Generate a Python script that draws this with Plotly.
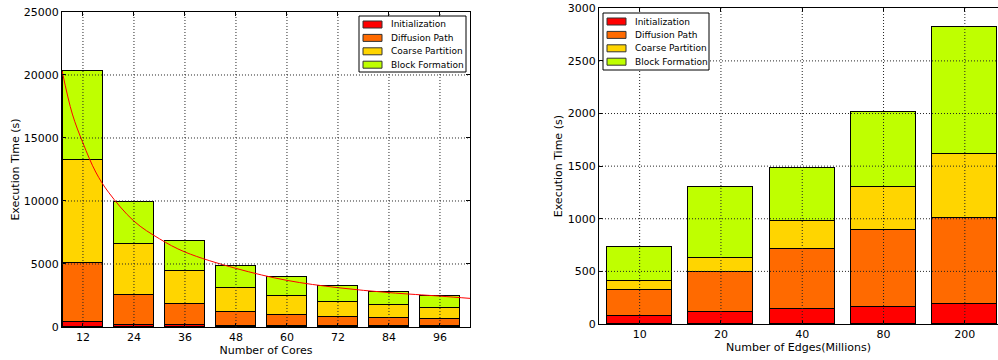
import plotly.graph_objects as go

# ---------------- data ----------------
cores = [12, 24, 36, 48, 60, 72, 84, 96]
core_init = [400, 185, 130, 105, 80, 80, 60, 55]
core_diff = [4650, 2375, 1690, 1085, 900, 710, 630, 555]
core_coarse = [8180, 3990, 2640, 1900, 1500, 1190, 1050, 870]
core_block = [7070, 3400, 2400, 1740, 1480, 1270, 1060, 975]

# ideal-scaling curve
curve_x = [7.1, 9.5, 12, 15, 18, 24, 30, 36, 48, 60, 72, 84, 96, 103.1]
curve_y = [20300, 16900, 14600, 12300, 10700, 8400, 7000, 5950, 4650, 3700, 3120, 2730, 2450, 2270]

edges = ["10", "20", "40", "80", "200"]
edge_init = [76, 111, 136, 162, 187]
edge_diff = [244, 383, 574, 728, 817]
edge_coarse = [82, 130, 266, 409, 605]
edge_block = [323, 672, 503, 716, 1210]

series_names = ["Initialization", "Diffusion Path", "Coarse Partition", "Block Formation"]
colors = ["#ff0000", "#ff6a00", "#ffd500", "#bfff00"]

left_yticks = [0, 5000, 10000, 15000, 20000, 25000]
right_yticks = [0, 500, 1000, 1500, 2000, 2500, 3000]

FONT = "DejaVu Sans"
W, H = 998, 360

fig = go.Figure()

for name, vals, col in zip(series_names, [core_init, core_diff, core_coarse, core_block], colors):
    fig.add_trace(go.Bar(
        x=cores, y=vals, name=name, width=9.6,
        marker=dict(color=col, line=dict(color="black", width=1)),
        xaxis="x", yaxis="y", showlegend=False,
    ))

fig.add_trace(go.Scatter(
    x=curve_x, y=curve_y, mode="lines", line=dict(color="red", width=1, shape="spline"),
    showlegend=False, xaxis="x", yaxis="y", hoverinfo="skip",
))

for name, vals, col in zip(series_names, [edge_init, edge_diff, edge_coarse, edge_block], colors):
    fig.add_trace(go.Bar(
        x=edges, y=vals, name=name, width=0.8,
        marker=dict(color=col, line=dict(color="black", width=1)),
        xaxis="x2", yaxis="y2", showlegend=False,
    ))

# dotted grid drawn above the bars (matplotlib classic look)
shapes = []
annotations = []
grid_line = dict(color="#222", width=1, dash="1px,2px")
for c in cores:
    shapes.append(dict(type="line", xref="x", yref="y domain", x0=c, x1=c, y0=0, y1=1,
                       line=grid_line, layer="above"))
for t in left_yticks[1:-1]:
    shapes.append(dict(type="line", xref="x domain", yref="y", x0=0, x1=1, y0=t, y1=t,
                       line=grid_line, layer="above"))
for i in range(len(edges)):
    shapes.append(dict(type="line", xref="x2", yref="y2 domain", x0=i, x1=i, y0=0, y1=1,
                       line=grid_line, layer="above"))
for t in right_yticks[1:-1]:
    shapes.append(dict(type="line", xref="x2 domain", yref="y2", x0=0, x1=1, y0=t, y1=t,
                       line=grid_line, layer="above"))


# matplotlib-style legend boxes (pixel layout -> paper coords)
def px(x):
    return x / W


def py(y):
    return 1 - y / H


def add_legend(left, top, width, height):
    shapes.append(dict(type="rect", xref="paper", yref="paper",
                       x0=px(left), x1=px(left + width), y0=py(top), y1=py(top + height),
                       line=dict(color="black", width=1), fillcolor="white", layer="above"))
    for k, (name, col) in enumerate(zip(series_names, colors)):
        cy = top + 8.5 + k * 13.4
        shapes.append(dict(type="rect", xref="paper", yref="paper",
                           x0=px(left + 4), x1=px(left + 23), y0=py(cy - 3.5), y1=py(cy + 3.5),
                           line=dict(color="#333", width=1), fillcolor=col, layer="above"))
        annotations.append(dict(text=name, xref="paper", yref="paper",
                                x=px(left + 30), y=py(cy), xanchor="left", yanchor="middle",
                                showarrow=False, font=dict(family=FONT, size=9, color="black")))


add_legend(359, 16, 107, 56)
add_legend(603, 13, 106, 57)

axis_common = dict(
    showline=True, linecolor="black", linewidth=1,
    ticks="inside", ticklen=4, tickcolor="black", tickwidth=1,
    showgrid=False, zeroline=False, automargin=False,
    tickfont=dict(family=FONT, size=11, color="black"),
)

fig.update_layout(
    width=W, height=H,
    template="none",
    margin=dict(l=0, r=0, t=0, b=0),
    paper_bgcolor="white", plot_bgcolor="white",
    barmode="stack", bargap=0,
    showlegend=False,
    font=dict(family=FONT, size=11, color="black"),
    xaxis=dict(**axis_common, domain=[0.0621, 0.4709], range=[7.06, 103.06],
               tickvals=cores, mirror="allticks",
               title=dict(text="Number of Cores", font=dict(size=11), standoff=3)),
    yaxis=dict(**axis_common, domain=[0.0917, 0.9667], range=[0, 25000],
               tickvals=left_yticks, tickformat="d", mirror="allticks",
               title=dict(text="Execution Time (s)", font=dict(size=11), standoff=1)),
    xaxis2=dict(**axis_common, domain=[0.6002, 1.0], range=[-0.5, 4.408],
                type="category", mirror="allticks", anchor="y2",
                title=dict(text="Number of Edges(Millions)", font=dict(size=11), standoff=2)),
    yaxis2=dict(**axis_common, domain=[0.1, 0.977], range=[0, 3000],
                tickvals=right_yticks, tickformat="d", anchor="x2",
                title=dict(text="Execution Time (s)", font=dict(size=11), standoff=2)),
    shapes=shapes,
    annotations=annotations,
)

fig.write_html("out.html")
